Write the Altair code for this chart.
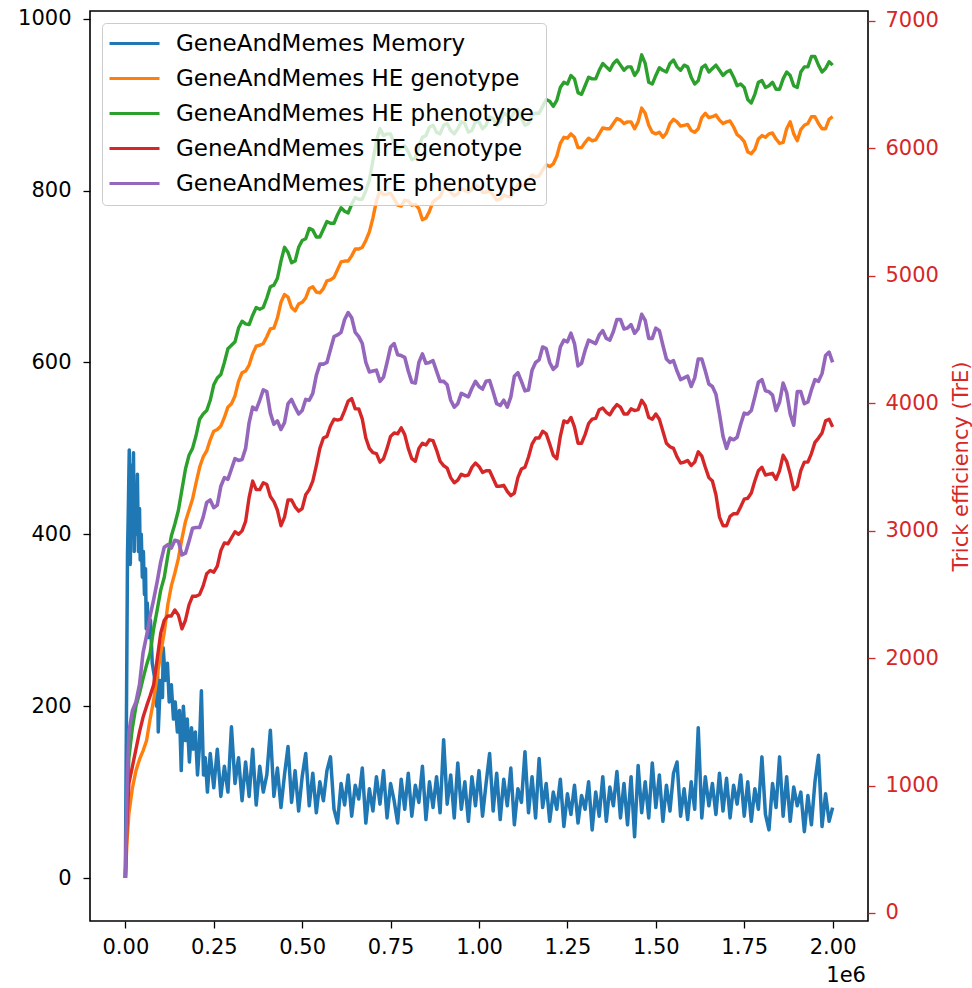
import altair as alt
import pandas as pd

FONT = "DejaVu Sans"

SERIES = [
    "GeneAndMemes Memory",
    "GeneAndMemes HE genotype",
    "GeneAndMemes HE phenotype",
    "GeneAndMemes TrE genotype",
    "GeneAndMemes TrE phenotype",
]
COLORS = ["#1f77b4", "#ff7f0e", "#2ca02c", "#d62728", "#9467bd"]

# Sampling steps (in units of 1e6) shared by the HE / TrE series
STEPS = [
    0.0, 0.005, 0.01, 0.02, 0.03, 0.04, 0.05, 0.06, 0.07, 0.08, 0.09, 0.10,
    0.12, 0.14, 0.16, 0.18, 0.20, 0.22, 0.24, 0.26, 0.28, 0.30,
    0.32, 0.34, 0.36, 0.38, 0.40, 0.42, 0.44, 0.46, 0.48, 0.50,
    0.52, 0.54, 0.56, 0.58, 0.60, 0.62, 0.64, 0.66, 0.68, 0.70,
    0.72, 0.74, 0.76, 0.78, 0.80, 0.82, 0.84, 0.86, 0.88, 0.90,
    0.92, 0.94, 0.96, 0.98, 1.00, 1.02, 1.04, 1.06, 1.08, 1.10,
    1.12, 1.14, 1.16, 1.18, 1.20, 1.22, 1.24, 1.26, 1.28, 1.30,
    1.32, 1.34, 1.36, 1.38, 1.40, 1.42, 1.44, 1.46, 1.48, 1.50,
    1.52, 1.54, 1.56, 1.58, 1.60, 1.62, 1.64, 1.66, 1.68, 1.70,
    1.72, 1.74, 1.76, 1.78, 1.80, 1.82, 1.84, 1.86, 1.88, 1.90,
    1.92, 1.94, 1.96, 1.98, 2.00,
]
# In-between samples at 0.11, 0.13, ..., 1.99
MID_STEPS = [round(0.11 + 0.02 * i, 2) for i in range(95)]

HE_GENOTYPE = [
    0, 45, 75, 105, 125, 138, 148, 160, 185, 207, 235, 262,
    318, 355, 395, 428, 460, 490, 510, 522, 536, 552,
    578, 590, 610, 620, 630, 640, 670, 676, 660, 670,
    686, 682, 686, 696, 708, 718, 724, 732, 742, 768,
    800, 796, 790, 782, 788, 784, 766, 776, 790, 802,
    798, 796, 800, 802, 804, 798, 795, 790, 793, 800,
    806, 812, 816, 824, 828, 840, 862, 866, 850, 856,
    858, 866, 872, 878, 882, 880, 872, 896, 876, 866,
    862, 878, 880, 876, 870, 872, 890, 886, 882, 880,
    874, 862, 845, 848, 864, 866, 860, 856, 880, 858,
    876, 886, 878, 872, 886,
]
HE_GENOTYPE_MID = [
    286, 340, 372, 415, 441, 478, 497, 520, 526, 548,
    561, 588, 597, 619, 622, 639, 652, 679, 664, 668,
    675, 688, 681, 695, 699, 717, 718, 732, 734, 752,
    788, 795, 797, 783, 789, 783, 779, 768, 787, 793,
    804, 794, 802, 798, 807, 798, 800, 789, 795, 793,
    807, 806, 818, 817, 830, 831, 855, 861, 862, 850,
    861, 859, 873, 872, 884, 878, 880, 880, 890, 868,
    868, 867, 883, 875, 877, 868, 885, 885, 888, 878,
    881, 865, 857, 843, 860, 862, 867, 855, 872, 866,
    871, 878, 886, 872, 883,
]

HE_PHENOTYPE = [
    0, 90, 140, 175, 200, 215, 232, 248, 262, 290, 312, 335,
    375, 412, 452, 492, 515, 540, 556, 582, 600, 620,
    640, 645, 655, 662, 675, 690, 718, 728, 718, 742,
    756, 746, 755, 762, 772, 776, 784, 790, 800, 835,
    872, 866, 855, 850, 845, 838, 862, 874, 868, 876,
    870, 872, 878, 870, 880, 876, 884, 880, 888, 892,
    884, 878, 890, 898, 904, 905, 926, 934, 914, 922,
    930, 940, 944, 948, 946, 944, 934, 958, 926, 934,
    940, 948, 944, 946, 932, 928, 946, 942, 940, 938,
    932, 924, 906, 912, 928, 922, 918, 930, 934, 920,
    944, 956, 946, 942, 946,
]
HE_PHENOTYPE_MID = [
    350, 398, 428, 476, 500, 534, 544, 574, 586, 616,
    624, 648, 644, 664, 664, 688, 698, 734, 716, 734,
    744, 754, 746, 764, 762, 780, 774, 792, 790, 812,
    858, 864, 866, 848, 852, 836, 852, 864, 876, 866,
    878, 866, 880, 868, 880, 872, 886, 876, 890, 884,
    894, 876, 888, 890, 906, 898, 920, 924, 930, 912,
    932, 930, 948, 940, 952, 940, 944, 940, 948, 924,
    943, 938, 952, 940, 944, 924, 943, 938, 946, 934,
    940, 922, 920, 902, 926, 920, 926, 918, 938, 922,
    938, 944, 956, 938, 950,
]

TRE_GENOTYPE = [
    0, 70, 110, 130, 150, 170, 187, 200, 212, 225, 255, 285,
    305, 312, 290, 318, 328, 340, 358, 363, 390, 396,
    400, 415, 462, 452, 458, 438, 410, 440, 432, 430,
    452, 480, 512, 526, 533, 544, 558, 546, 512, 495,
    484, 500, 518, 524, 500, 485, 506, 510, 498, 480,
    466, 463, 468, 478, 479, 474, 465, 456, 450, 448,
    476, 490, 512, 520, 505, 488, 532, 536, 506, 516,
    534, 545, 542, 546, 548, 540, 544, 556, 536, 540,
    520, 502, 490, 484, 480, 496, 478, 462, 420, 410,
    424, 432, 442, 462, 478, 470, 464, 492, 470, 456,
    484, 494, 512, 532, 525,
]
TRE_GENOTYPE_MID = [
    300, 305, 306, 300, 328, 330, 354, 356, 381, 389,
    403, 404, 443, 452, 460, 444, 428, 420, 440, 427,
    446, 462, 500, 514, 534, 534, 555, 546, 534, 500,
    494, 488, 514, 517, 516, 488, 500, 504, 509, 485,
    477, 460, 470, 469, 483, 472, 474, 456, 457, 445,
    466, 478, 505, 512, 517, 492, 514, 530, 525, 506,
    529, 535, 547, 539, 551, 540, 546, 545, 550, 534,
    534, 506, 500, 483, 486, 484, 491, 466, 446, 410,
    421, 424, 441, 448, 474, 469, 471, 474, 485, 452,
    474, 484, 507, 518, 534,
]

TRE_PHENOTYPE = [
    0, 110, 170, 195, 205, 225, 262, 282, 305, 324, 345, 368,
    388, 393, 376, 392, 408, 420, 440, 434, 466, 476,
    486, 500, 548, 556, 566, 528, 522, 552, 548, 544,
    556, 585, 598, 615, 632, 650, 652, 630, 600, 590,
    578, 600, 622, 608, 590, 576, 610, 600, 590, 578,
    556, 552, 562, 570, 572, 578, 566, 550, 548, 584,
    578, 568, 600, 618, 600, 596, 626, 634, 596, 614,
    624, 632, 628, 636, 650, 640, 634, 656, 628, 640,
    620, 600, 590, 582, 572, 604, 590, 572, 540, 500,
    510, 528, 540, 560, 580, 566, 544, 576, 540, 566,
    552, 568, 578, 608, 600,
]
TRE_PHENOTYPE_MID = [
    385, 384, 392, 378, 407, 408, 437, 431, 456, 464,
    488, 487, 530, 545, 568, 541, 532, 530, 557, 540,
    557, 564, 598, 600, 630, 635, 658, 635, 622, 589,
    591, 583, 618, 609, 606, 577, 600, 599, 602, 578,
    574, 548, 564, 560, 578, 569, 579, 552, 556, 560,
    588, 567, 591, 603, 616, 592, 618, 624, 622, 599,
    626, 622, 637, 626, 650, 639, 644, 639, 649, 628,
    637, 604, 602, 580, 584, 582, 604, 575, 563, 514,
    512, 513, 541, 544, 577, 567, 562, 554, 565, 527,
    566, 554, 580, 587, 612,
]

# Memory: dense early burst, then a noisy plateau sampled every 0.01
MEM_STEPS_EARLY = [
    0.0, 0.003, 0.006, 0.008, 0.011, 0.014, 0.017, 0.020, 0.023, 0.025,
    0.028, 0.031, 0.034, 0.037, 0.040, 0.042, 0.045, 0.048, 0.051, 0.054,
    0.057, 0.059, 0.062, 0.065, 0.071, 0.076, 0.082, 0.088, 0.091, 0.093,
    0.099, 0.105, 0.107, 0.113, 0.119, 0.124, 0.130, 0.136, 0.141, 0.147,
    0.153, 0.158, 0.164, 0.170, 0.175, 0.181, 0.187, 0.192, 0.198, 0.204,
    0.209, 0.215, 0.221, 0.226, 0.232,
]
MEM_EARLY = [
    0, 185, 375, 420, 498, 365, 480, 440, 495, 380,
    455, 400, 470, 380, 430, 370, 400, 350, 380, 330,
    360, 290, 320, 280, 300, 250, 235, 200, 240, 170,
    230, 210, 268, 230, 250, 205, 225, 185, 205, 170,
    195, 125, 200, 160, 185, 135, 175, 150, 170, 120,
    150, 218, 120, 140, 100,
]
MEM_LATE = [  # steps 0.24 .. 2.00
    145, 105, 150, 95, 130, 100, 176, 110, 140, 90,
    135, 95, 150, 85, 130, 100, 120, 172, 95, 128,
    82, 120, 153, 88, 125, 78, 118, 145, 84, 122,
    76, 112, 90, 125, 141, 80, 64, 110, 85, 120,
    72, 108, 92, 128, 64, 104, 78, 118, 86, 125,
    70, 110, 90, 64, 115, 80, 122, 72, 108, 88,
    130, 68, 112, 82, 118, 76, 161, 86, 120, 70,
    134, 80, 112, 66, 118, 84, 125, 72, 110, 145,
    78, 122, 68, 115, 84, 128, 62, 104, 88, 147,
    76, 118, 70, 139, 82, 110, 66, 100, 80, 115,
    60, 98, 74, 108, 64, 96, 80, 112, 56, 100,
    72, 118, 66, 106, 84, 124, 70, 110, 62, 118,
    48, 131, 76, 112, 70, 134, 82, 120, 66, 108,
    78, 122, 135, 72, 104, 68, 112, 80, 175, 70,
    118, 84, 110, 74, 122, 78, 116, 70, 108, 86,
    120, 72, 112, 66, 104, 80, 141, 74, 56, 110,
    82, 141, 72, 118, 66, 106, 84, 100, 54, 96,
    62, 112, 143, 60, 98, 66, 82,
]
MEM_STEPS = MEM_STEPS_EARLY + [round(0.24 + 0.01 * i, 2) for i in range(len(MEM_LATE))]
MEMORY = MEM_EARLY + MEM_LATE

X_TICKS = [0.0, 0.25, 0.5, 0.75, 1.0, 1.25, 1.5, 1.75, 2.0]
LEFT_TICKS = [0, 200, 400, 600, 800, 1000]
RIGHT_TICKS = [0, 1000, 2000, 3000, 4000, 5000, 6000, 7000]

W, H = 778, 910

x_enc = alt.X(
    "step:Q",
    scale=alt.Scale(domain=[-0.1, 2.1], nice=False, zero=False),
    axis=alt.Axis(values=X_TICKS, format=".2f", title=None, labelPadding=8),
)
y_enc = alt.Y(
    "value:Q",
    scale=alt.Scale(domain=[-50, 1009], nice=False, zero=False),
    axis=alt.Axis(values=LEFT_TICKS, format="d", title=None, orient="left", labelPadding=12),
)
color_enc = alt.Color(
    "series:N",
    scale=alt.Scale(domain=SERIES, range=COLORS),
    sort=SERIES,
    legend=alt.Legend(
        title=None,
        orient="none",
        legendX=12,
        legendY=12,
        symbolType="M-5,0L5,0",
        symbolSize=100,
        symbolStrokeWidth=3,
        symbolOffset=12,
        labelOffset=30,
        labelFont=FONT,
        labelFontSize=23,
        labelColor="#000000",
        labelLimit=600,
        rowPadding=11,
        padding=9,
        fillColor="rgba(255,255,255,0.8)",
        strokeColor="#cccccc",
        cornerRadius=4,
    ),
)


def series_frame(name, steps, values, mid_steps=None, mid_values=None):
    df = pd.DataFrame({"step": steps, "value": values})
    if mid_steps is not None:
        df = pd.concat([df, pd.DataFrame({"step": mid_steps, "value": mid_values})])
    df = df.sort_values("step").reset_index(drop=True)
    df["series"] = name
    return df


series_data = [
    (series_frame(SERIES[0], MEM_STEPS, MEMORY), 3.5),
    (series_frame(SERIES[1], STEPS, HE_GENOTYPE, MID_STEPS, HE_GENOTYPE_MID), 3.4),
    (series_frame(SERIES[2], STEPS, HE_PHENOTYPE, MID_STEPS, HE_PHENOTYPE_MID), 3.4),
    (series_frame(SERIES[3], STEPS, TRE_GENOTYPE, MID_STEPS, TRE_GENOTYPE_MID), 3.4),
    (series_frame(SERIES[4], STEPS, TRE_PHENOTYPE, MID_STEPS, TRE_PHENOTYPE_MID), 3.6),
]

line_layers = [
    alt.Chart(df)
    .mark_line(strokeWidth=width, strokeJoin="round")
    .encode(x=x_enc, y=y_enc, color=color_enc, order="step:Q")
    for df, width in series_data
]
lines = alt.layer(*line_layers)

# Secondary (right-hand) axis for trick efficiency
right_axis = (
    alt.Chart(pd.DataFrame({"tre": [RIGHT_TICKS[0], RIGHT_TICKS[-1]]}))
    .mark_point(opacity=0)
    .encode(
        x=alt.value(0),
        y=alt.Y(
            "tre:Q",
            scale=alt.Scale(domain=[-63, 7078], nice=False, zero=False),
            axis=alt.Axis(
                orient="right",
                values=RIGHT_TICKS,
                format="d",
                title="Trick efficiency (TrE)",
                titleColor="#d62728",
                titleAngle=270,
                titleBaseline="top",
                titlePadding=12,
                labelColor="#d62728",
                tickColor="#d62728",
                labelPadding=10,
            ),
        ),
    )
)

# Scale multiplier shown under the x axis
offset_text = (
    alt.Chart(pd.DataFrame({"t": ["1e6"]}))
    .mark_text(align="right", baseline="alphabetic", font=FONT, fontSize=21, color="#000000")
    .encode(text="t:N", x=alt.value(W - 2), y=alt.value(H + 61))
)

chart = (
    alt.layer(lines, right_axis, offset_text)
    .resolve_scale(y="independent")
    .properties(
        width=W,
        height=H,
        autosize=alt.AutoSizeParams(type="none"),
        padding={"left": 90, "top": 11, "right": 104, "bottom": 67},
        background="white",
    )
    .configure_view(stroke="#000000", strokeWidth=1.6)
    .configure_axis(
        labelFont=FONT,
        labelFontSize=21,
        labelColor="#000000",
        tickColor="#000000",
        tickSize=7,
        tickWidth=1.3,
        domain=False,
        grid=False,
        titleFont=FONT,
        titleFontSize=21,
        titleFontWeight="normal",
    )
)

chart.save("out.html", embed_options={"renderer": "svg", "actions": False})
